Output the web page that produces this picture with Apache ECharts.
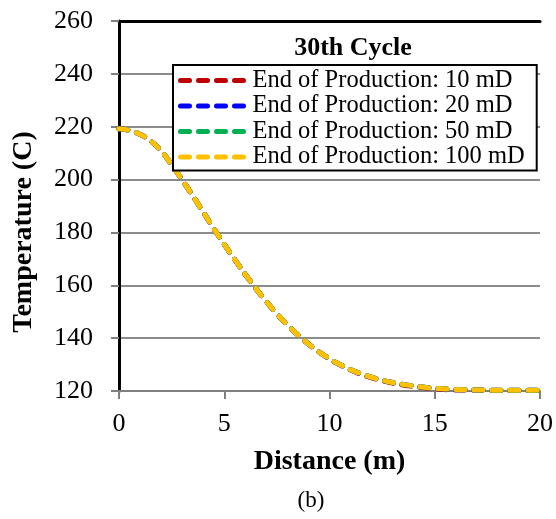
<!DOCTYPE html>
<html>
<head>
<meta charset="utf-8">
<script src="https://cdn.jsdelivr.net/npm/echarts@6/dist/echarts.min.js"></script>
<style>html,body{margin:0;padding:0;background:#fff;}#c{width:556px;height:519px;}</style>
</head>
<body>
<div id="c"></div>
<script>
// Distance (m)
const distance = [0,0.5,1,1.5,2,2.5,3,3.5,4,4.5,5,5.5,6,6.5,7,7.5,8,8.5,9,9.5,10,10.5,11,11.5,12,12.5,13,13.5,14,14.5,15,16,17,18,19,20];
// Temperature (C) per permeability
const temp10mD  = [219.2,218.6,217.1,214.6,210.9,205.6,199.9,193.9,187.7,181.5,175.5,169.7,164.1,158.8,153.8,149.2,145.0,141.2,137.8,134.8,132.1,129.9,128.0,126.3,125.0,123.9,123.0,122.3,121.7,121.2,120.8,120.4,120.3,120.2,120.2,120.2];
const temp20mD  = [219.2,218.6,217.1,214.6,210.9,205.6,199.9,193.9,187.7,181.5,175.5,169.7,164.1,158.8,153.8,149.2,145.0,141.2,137.8,134.8,132.2,130.0,128.1,126.5,125.2,124.1,123.2,122.5,121.9,121.4,121.0,120.6,120.4,120.3,120.3,120.3];
const temp50mD  = [219.2,218.6,217.1,214.6,210.9,205.6,199.9,193.9,187.7,181.5,175.5,169.7,164.1,158.8,153.8,149.2,145.0,141.2,137.8,134.8,132.2,130.0,128.1,126.5,125.2,124.1,123.2,122.5,121.9,121.4,121.0,120.6,120.4,120.3,120.3,120.3];
const temp100mD = [219.2,218.6,217.1,214.6,210.9,205.6,199.9,193.9,187.7,181.5,175.5,169.7,164.1,158.8,153.8,149.2,145.0,141.2,137.8,134.8,132.2,130.0,128.1,126.5,125.2,124.1,123.2,122.5,121.9,121.4,121.0,120.6,120.4,120.3,120.3,120.3];
const seriesNames = ['End of Production: 10 mD','End of Production: 20 mD','End of Production: 50 mD','End of Production: 100 mD'];
const seriesColors = ['#C00000','#0000FF','#00B050','#FFC000'];
const seriesValues = [temp10mD, temp20mD, temp50mD, temp100mD];
const yTicks = {min:120, max:260, interval:20};
const xTicks = {min:0, max:20, interval:5};

const FONT = '"Liberation Serif", "Times New Roman", serif';
const chart = echarts.init(document.getElementById('c'), null, {renderer:'canvas'});

const series = seriesNames.map((n,i)=>({
  name:n, type:'line', smooth:true, symbol:'none', showSymbol:false,
  xAxisIndex:0, yAxisIndex:0, z:2+i,
  data: distance.map((d,k)=>[d, seriesValues[i][k]]),
  lineStyle:{color:seriesColors[i], width:5, type:[9,9], cap:'round'},
  itemStyle:{color:seriesColors[i]}
}));

chart.setOption({
  animation:false,
  backgroundColor:'#fff',
  title:[
    {text:'30th Cycle', left:353, top:35, textAlign:'center', padding:0,
     textStyle:{fontFamily:FONT, fontWeight:'bold', fontSize:26, color:'#000'}},
    {text:'(b)', left:311, top:489, textAlign:'center', padding:0,
     textStyle:{fontFamily:FONT, fontWeight:'normal', fontSize:23, color:'#000'}}
  ],
  grid:{left:119, right:16, top:21, bottom:128, containLabel:false},
  legend:{
    orient:'vertical', left:173, top:65,
    padding:[3,12,1,5], itemGap:0.5, itemWidth:69, itemHeight:24,
    backgroundColor:'#fff', borderColor:'#000', borderWidth:2,
    data:seriesNames,
    itemStyle:{opacity:0},
    lineStyle:{width:5, type:[9,9], cap:'round'},
    textStyle:{fontFamily:FONT, fontSize:24.5, color:'#000', padding:[0,0,0,-2], lineHeight:24},
    z:20
  },
  xAxis:[
    {type:'value', min:xTicks.min, max:xTicks.max, interval:xTicks.interval, position:'bottom',
     name:'Distance (m)', nameLocation:'middle', nameGap:57,
     nameTextStyle:{fontFamily:FONT, fontWeight:'bold', fontSize:28, color:'#000'},
     axisLine:{show:true, lineStyle:{color:'#808080', width:2}},
     axisTick:{show:true, inside:false, length:8, lineStyle:{color:'#808080', width:2}},
     axisLabel:{fontFamily:FONT, fontSize:26, color:'#000', margin:20},
     splitLine:{show:false}},
    {type:'value', min:xTicks.min, max:xTicks.max, position:'top',
     axisLine:{show:true, lineStyle:{color:'#000', width:3}},
     axisTick:{show:false}, axisLabel:{show:false}, splitLine:{show:false}}
  ],
  yAxis:[
    {type:'value', min:yTicks.min, max:yTicks.max, interval:yTicks.interval, position:'left',
     name:'Temperature (C)', nameLocation:'middle', nameGap:81,
     nameTextStyle:{fontFamily:FONT, fontWeight:'bold', fontSize:28, color:'#000', padding:[0,52,0,0]},
     axisLine:{show:true, lineStyle:{color:'#808080', width:2}},
     axisTick:{show:true, inside:false, length:8, lineStyle:{color:'#808080', width:2}},
     axisLabel:{fontFamily:FONT, fontSize:26, color:'#000', margin:26},
     splitLine:{show:true, lineStyle:{color:'#8c8c8c', width:2}}},
    {type:'value', min:yTicks.min, max:yTicks.max, position:'right',
     axisLine:{show:true, lineStyle:{color:'#000', width:3}},
     axisTick:{show:false}, axisLabel:{show:false}, splitLine:{show:false}}
  ],
  series: series
});
</script>
</body>
</html>
